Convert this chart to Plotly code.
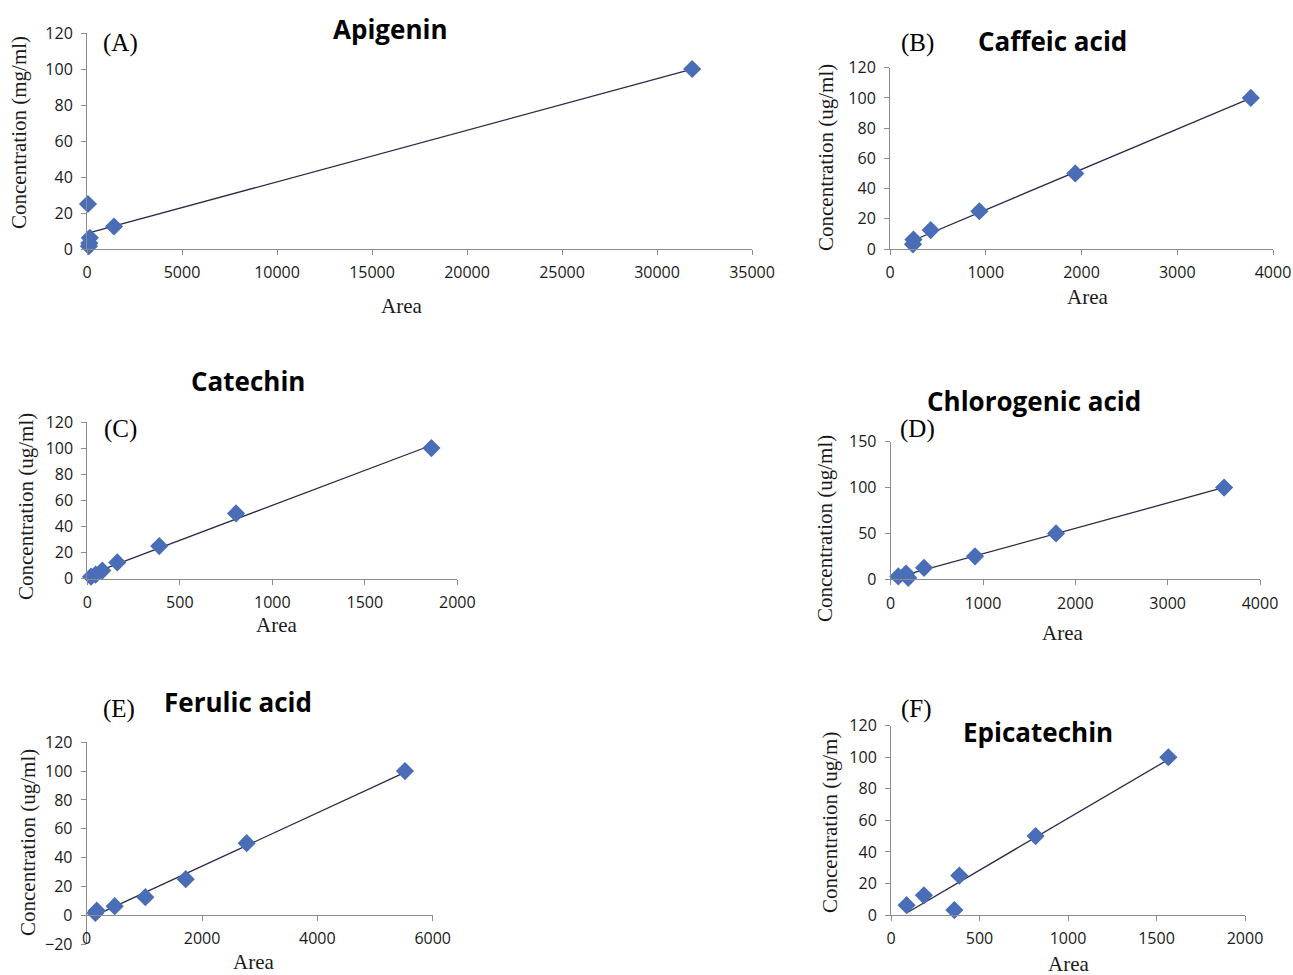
import numpy as np
import plotly.graph_objects as go

# ---------------- data ----------------
titles = ["Apigenin", "Caffeic acid", "Catechin", "Chlorogenic acid", "Ferulic acid", "Epicatechin"]
letters = ["(A)", "(B)", "(C)", "(D)", "(E)", "(F)"]
ytitles = ["Concentration (mg/ml)", "Concentration (ug/ml)", "Concentration (ug/ml)",
           "Concentration (ug/ml)", "Concentration (ug/ml)", "Concentration (ug/m)"]

apigenin_area = [50, 100, 120, 150, 1420, 31850]
apigenin_conc = [25, 1.56, 3.125, 6.25, 12.5, 100]

caffeic_area = [240, 245, 425, 933, 1935, 3768]
caffeic_conc = [3.125, 6.25, 12.5, 25, 50, 100]

catechin_area = [20, 45, 81, 162, 389, 804, 1860]
catechin_conc = [1.56, 3.125, 6.25, 12.5, 25, 50, 100]

chlorogenic_area = [82, 166, 190, 361, 913, 1791, 3611]
chlorogenic_conc = [3.125, 6.25, 1.56, 12.5, 25, 50, 100]

ferulic_area = [150, 175, 485, 1017, 1717, 2774, 5519]
ferulic_conc = [1.56, 3.125, 6.25, 12.5, 25, 50, 100]

epicatechin_area = [88, 186, 358, 386, 817, 1567]
epicatechin_conc = [6.25, 12.5, 3.125, 25, 50, 100]

x_ranges = [[0, 35000], [0, 4000], [0, 2000], [0, 4000], [0, 6000], [0, 2000]]
x_dticks = [5000, 1000, 500, 1000, 2000, 500]
y_ranges = [[0, 120], [0, 120], [0, 120], [0, 150], [-20, 120], [0, 120]]
y_dticks = [20, 20, 20, 50, 20, 20]

series = [(apigenin_area, apigenin_conc), (caffeic_area, caffeic_conc),
          (catechin_area, catechin_conc), (chlorogenic_area, chlorogenic_conc),
          (ferulic_area, ferulic_conc), (epicatechin_area, epicatechin_conc)]

# ---------------- layout (pixel geometry) ----------------
W, H = 1293, 975
# plot boxes: left, right, top, bottom in pixels
boxes = [(87, 752, 33, 249), (890, 1273, 67.7, 249), (87.3, 457.3, 422, 578.7),
         (890.7, 1260, 441.7, 579.3), (86.7, 432.7, 742.3, 944), (891, 1245, 725.7, 915)]
# annotation centers (pixels)
title_pos = [(390, 29), (1052, 41), (248, 381), (1034, 401), (238, 702), (1038, 732)]
letter_pos = [(120, 43), (917, 43), (120, 429), (917, 429), (119, 709), (916, 709)]
ytitle_pos = [(19, 133), (826, 158), (26, 507), (825, 529), (28, 843), (830, 823)]
xtitle_pos = [(401, 306), (1087, 297), (276, 625), (1062, 633), (253, 962), (1068, 964)]

px = lambda x: x / W
py = lambda y: 1 - y / H

MARKER = "#4A6DB8"
LINE = "#2A2A48"
AXC = "#8C8C8C"
tickfont = dict(family="Open Sans", size=16, color="#1a1a1a")

fig = go.Figure()
layout = dict(width=W, height=H, margin=dict(l=0, r=0, t=0, b=0, pad=0, autoexpand=False),
              paper_bgcolor="white", plot_bgcolor="white", showlegend=False)
annotations = []

for i, (xs, ys) in enumerate(series):
    n = "" if i == 0 else str(i + 1)
    xa, ya = "x" + n, "y" + n
    xs_a = np.array(xs, float)
    ys_a = np.array(ys, float)
    slope, icpt = np.polyfit(xs_a, ys_a, 1)
    lx = np.array([xs_a.min(), xs_a.max()])
    fig.add_trace(go.Scatter(x=lx, y=slope * lx + icpt, mode="lines",
                             line=dict(color=LINE, width=1.3), xaxis=xa, yaxis=ya,
                             hoverinfo="skip", cliponaxis=False))
    fig.add_trace(go.Scatter(x=xs, y=ys, mode="markers",
                             marker=dict(symbol="diamond", size=14, color=MARKER,
                                         line=dict(width=0)),
                             xaxis=xa, yaxis=ya, cliponaxis=False))
    l, r, t, b = boxes[i]
    common = dict(showline=True, linecolor=AXC, linewidth=1,
                  ticks="outside", ticklen=5, tickcolor=AXC, tickwidth=1,
                  showgrid=False, zeroline=False, tickfont=tickfont, tickformat="d",
                  automargin=False, fixedrange=True, tick0=0)
    xaxis = dict(domain=[px(l), px(r)], range=x_ranges[i], dtick=x_dticks[i],
                 anchor=ya, ticklabelstandoff=4, **common)
    yaxis = dict(domain=[py(b), py(t)], range=y_ranges[i], dtick=y_dticks[i],
                 anchor=xa, ticklabelstandoff=5, **common)
    if y_ranges[i][0] < 0:
        # x axis crosses at y = 0
        frac = (0 - y_ranges[i][0]) / (y_ranges[i][1] - y_ranges[i][0])
        xaxis["anchor"] = "free"
        xaxis["position"] = py(b) + frac * (py(t) - py(b))
    layout["xaxis" + n] = xaxis
    layout["yaxis" + n] = yaxis

    annotations.append(dict(text="<b>" + titles[i] + "</b>", x=px(title_pos[i][0]), y=py(title_pos[i][1]),
                            xref="paper", yref="paper", showarrow=False, xanchor="center", yanchor="middle",
                            font=dict(family="Open Sans", size=26, color="#000")))
    annotations.append(dict(text=letters[i], x=px(letter_pos[i][0]), y=py(letter_pos[i][1]),
                            xref="paper", yref="paper", showarrow=False, xanchor="center", yanchor="middle",
                            font=dict(family="Liberation Serif", size=25, color="#000")))
    annotations.append(dict(text=ytitles[i], x=px(ytitle_pos[i][0]), y=py(ytitle_pos[i][1]),
                            xref="paper", yref="paper", showarrow=False, xanchor="center", yanchor="middle",
                            textangle=-90,
                            font=dict(family="Liberation Serif", size=21, color="#1a1a1a")))
    annotations.append(dict(text="Area", x=px(xtitle_pos[i][0]), y=py(xtitle_pos[i][1]),
                            xref="paper", yref="paper", showarrow=False, xanchor="center", yanchor="middle",
                            font=dict(family="Liberation Serif", size=21, color="#1a1a1a")))

layout["annotations"] = annotations
fig.update_layout(**layout)
fig.write_html("out.html",
               config={"displayModeBar": False, "staticPlot": True},
               post_script="document.body.style.margin='0';document.body.style.overflow='hidden';")
